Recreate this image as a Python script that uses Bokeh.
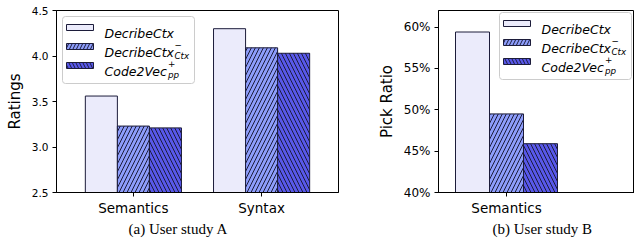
import numpy as np
from bokeh.plotting import figure
from bokeh.layouts import row
from bokeh.models import Range1d, FixedTicker, NumeralTickFormatter, BoxAnnotation, Label, Title
from bokeh.embed import file_html
from bokeh.resources import INLINE

# ---------------- data ----------------
legend_names = ["DecribeCtx", "DecribeCtx", "Code2Vec"]
legend_sup = ["", "\u2212", "+"]
legend_sub = ["", "Ctx", "pp"]

a_categories = ["Semantics", "Syntax"]
a_describectx = [3.56, 4.30]
a_describectx_no_ctx = [3.23, 4.09]
a_code2vec_pp = [3.21, 4.03]
a_ticks = [2.5, 3.0, 3.5, 4.0, 4.5]
a_ylabel = "Ratings"
a_caption = "(a) User study A"

b_categories = ["Semantics"]
b_describectx = [0.594]
b_describectx_no_ctx = [0.495]
b_code2vec_pp = [0.459]
b_ticks = [0.40, 0.45, 0.50, 0.55, 0.60]
b_ylabel = "Pick Ratio"
b_caption = "(b) User study B"

# ---------------- style ----------------
FILLS = ["#ebebfb", "#8d9dfb", "#5858ea"]
HATCHES = [None, "/", "\\"]
EDGE = "#1c1c3a"
SANS = "DejaVu Sans"
SERIF = "Liberation Serif"
BAR_W = 0.25
OFFSETS = [-0.25, 0.0, 0.25]
H = 249
LEG_FONT = 12.5
SCRIPT_FONT = LEG_FONT * 0.7

# DejaVu Sans advance widths (em) for legend text layout
ADV = {"D": 0.770, "e": 0.615, "c": 0.550, "r": 0.411, "i": 0.278, "b": 0.635,
       "C": 0.698, "t": 0.392, "x": 0.592, "o": 0.612, "d": 0.635, "2": 0.636,
       "V": 0.684}


def text_width(s, size):
    return sum(ADV.get(ch, 0.6) for ch in s) * size


def scr(**kw):
    d = {}
    for k in kw:
        d[k + "_units"] = "screen"
    d.update(kw)
    return d


def add_legend(p, frame_h, box_left, box_top):
    W, HH = 132, 67
    top = frame_h - box_top
    p.add_layout(BoxAnnotation(**scr(left=box_left, right=box_left + W, top=top, bottom=top - HH),
                               fill_color="white", fill_alpha=0.85, line_color="#cccccc",
                               line_alpha=1.0, line_width=1, border_radius=3, level="overlay"))
    for i in range(3):
        cy = top - 11 - 19 * i
        p.add_layout(BoxAnnotation(**scr(left=box_left + 4, right=box_left + 31, top=cy + 3, bottom=cy - 3),
                                   fill_color=FILLS[i], fill_alpha=1.0, line_color=EDGE, line_alpha=1.0,
                                   line_width=1, hatch_pattern=HATCHES[i], hatch_color=EDGE,
                                   hatch_scale=7, hatch_weight=1, hatch_alpha=1.0, level="overlay"))
        tx = box_left + 42
        base = cy - 5.5
        p.add_layout(Label(x=tx, y=base, x_units="screen", y_units="screen", text=legend_names[i],
                           text_font=SANS, text_font_style="italic", text_font_size=f"{LEG_FONT}px",
                           text_color="black", text_baseline="alphabetic", level="overlay"))
        sx = tx + text_width(legend_names[i], LEG_FONT) + 0.5
        if legend_sup[i]:
            p.add_layout(Label(x=sx, y=base + 8, x_units="screen", y_units="screen", text=legend_sup[i],
                               text_font=SANS, text_font_style="italic", text_font_size=f"{SCRIPT_FONT}px",
                               text_color="black", text_baseline="alphabetic", level="overlay"))
        if legend_sub[i]:
            p.add_layout(Label(x=sx, y=base - 4, x_units="screen", y_units="screen", text=legend_sub[i],
                               text_font=SANS, text_font_style="italic", text_font_size=f"{SCRIPT_FONT}px",
                               text_color="black", text_baseline="alphabetic", level="overlay"))


def make_panel(cats, series, ticks, fmt, ylabel, caption, x_range, y_range, width, border,
               ytick_font, caption_offset, caption_standoff, legend_pos):
    bl, br, bt, bb = border
    p = figure(width=width, height=H, x_range=Range1d(*x_range), y_range=Range1d(*y_range),
               output_backend="svg", toolbar_location=None,
               min_border_left=bl, min_border_right=br, min_border_top=bt, min_border_bottom=bb)
    frame_h = H - bt - bb
    p.xgrid.visible = False
    p.ygrid.visible = False
    p.outline_line_color = "black"
    p.outline_line_alpha = 1.0
    p.outline_line_width = 1
    p.background_fill_color = "white"
    p.border_fill_color = "white"

    base = np.arange(len(cats))
    for i, vals in enumerate(series):
        kw = {}
        if HATCHES[i]:
            kw = dict(hatch_pattern=HATCHES[i], hatch_color=EDGE, hatch_scale=8, hatch_weight=1)
        p.vbar(x=base + OFFSETS[i], top=vals, bottom=0, width=BAR_W, fill_color=FILLS[i],
               line_color=EDGE, line_width=1, **kw)

    xa = p.xaxis[0]
    xa.ticker = FixedTicker(ticks=[float(v) for v in base])
    xa.major_label_overrides = {int(k): c for k, c in zip(base, cats)}
    xa.major_tick_out = 4
    xa.major_tick_in = 0
    xa.minor_tick_line_color = None
    xa.major_label_text_font = SANS
    xa.major_label_text_font_size = "13.5px"
    xa.major_label_text_color = "black"
    xa.major_label_standoff = 3
    xa.axis_line_color = "black"
    xa.major_tick_line_color = "black"

    ya = p.yaxis[0]
    ya.ticker = FixedTicker(ticks=ticks)
    ya.formatter = NumeralTickFormatter(format=fmt)
    ya.major_tick_out = 4
    ya.major_tick_in = 0
    ya.minor_tick_line_color = None
    ya.major_label_text_font = SANS
    ya.major_label_text_font_size = ytick_font
    ya.major_label_text_color = "black"
    ya.major_label_standoff = 4
    ya.axis_line_color = "black"
    ya.major_tick_line_color = "black"
    ya.axis_label = ylabel
    ya.axis_label_text_font = SANS
    ya.axis_label_text_font_style = "normal"
    ya.axis_label_text_font_size = "15px"
    ya.axis_label_text_color = "black"
    ya.axis_label_standoff = 5

    add_legend(p, frame_h, *legend_pos)

    p.add_layout(Title(text=caption, align="left", offset=caption_offset, standoff=caption_standoff,
                       vertical_align="top",
                       text_font=SERIF, text_font_size="15px", text_font_style="normal",
                       text_color="black"), "below")
    return p


p1 = make_panel(a_categories, [a_describectx, a_describectx_no_ctx, a_code2vec_pp], a_ticks, "0.0",
                a_ylabel, a_caption, (-0.6, 1.6), (2.5, 4.5), 368, (56, 30, 10, 57),
                "10.5px", 72, 4, (6, 6))
p2 = make_panel(b_categories, [b_describectx, b_describectx_no_ctx, b_code2vec_pp], b_ticks, "0%",
                b_ylabel, b_caption, (-0.5, 0.941), (0.40, 0.62), 266, (70, 0, 7, 56),
                "12px", 54, 4, (61, 6))

layout = row(p1, p2)
open("out.html", "w").write(file_html(layout, INLINE))
